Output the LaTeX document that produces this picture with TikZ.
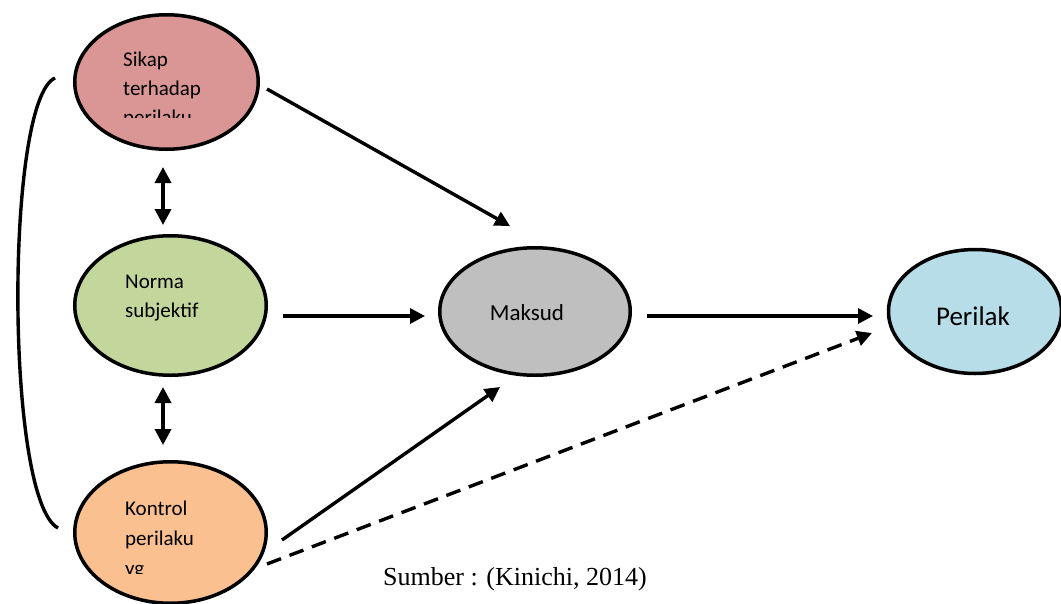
\documentclass[tikz,border=0pt]{standalone}
\usepackage{fontspec}
\setmainfont{Carlito}
\newfontfamily\serifsrc{Liberation Serif}
\usetikzlibrary{shapes.geometric,arrows.meta}
\definecolor{csikap}{HTML}{D99694}
\definecolor{cnorma}{HTML}{C3D69B}
\definecolor{ckontrol}{HTML}{FAC090}
\definecolor{cmaksud}{HTML}{BFBFBF}
\definecolor{cperilak}{HTML}{B7DDE8}
\tikzset{
  oval/.style={ellipse, draw=black, line width=3.5pt, inner sep=0pt},
  lbl/.style={anchor=base west, inner sep=0pt, font=\fontsize{21}{25}\selectfont},
  arr/.style={line width=3.4pt, -{Triangle[length=15pt,width=15pt]}},
  dbl/.style={line width=3.6pt, {Triangle[length=16pt,width=16pt]}-{Triangle[length=16pt,width=16pt]}},
  dsh/.style={arr, dash pattern=on 15pt off 9pt}
}
\begin{document}
\begin{tikzpicture}[x=1pt,y=-1pt]
\useasboundingbox (0,0) rectangle (1061,603);
% ellipses
\node[oval, fill=csikap, minimum width=183.5pt, minimum height=134.5pt] (sikap) at (166.5,82) {};
\node[oval, fill=cnorma, minimum width=191.5pt, minimum height=139.5pt] (norma) at (170.5,305.5) {};
\node[oval, fill=ckontrol, minimum width=191.5pt, minimum height=141.5pt] (kontrol) at (170.5,532.5) {};
\node[oval, fill=cmaksud, minimum width=190.5pt, minimum height=127.5pt] (maksud) at (535,311.5) {};
\node[oval, fill=cperilak, minimum width=173pt, minimum height=124pt] (perilak) at (975,311.5) {};
% texts
\node[lbl] (t1) at (123,66) {Sikap};
\node[lbl] (t2) at (123,95) {terhadap};
\begin{scope}
\clip (100,100) rectangle (250,117);
\node[lbl] (t3) at (123,124) {perilaku};
\end{scope}
\node[lbl] (t4) at (125,288) {Norma};
\node[lbl] (t5) at (125,317) {subjektif};
\node[lbl] (t6) at (125,515) {Kontrol};
\node[lbl] (t7) at (125,545) {perilaku};
\begin{scope}
\clip (100,555) rectangle (250,573);
\node[lbl] (t8) at (125,575) {yg};
\end{scope}
\node[anchor=center, inner sep=0pt, font=\fontsize{23}{27}\selectfont] (t9) at (527,313) {Maksud};
\node[anchor=center, inner sep=0pt, font=\fontsize{27}{31}\selectfont] (t10) at (973,316) {Perilak};
\node[anchor=base west, inner sep=0pt, font=\serifsrc\fontsize{26}{30}\selectfont] (src) at (383,585) {Sumber : (Kinichi, 2014)};
% connector end points
\coordinate (s1) at (267,89);   \coordinate (m1) at (510,226);
\coordinate (n1) at (283,316);  \coordinate (m2) at (425,316);
\coordinate (k1) at (282,540);  \coordinate (m3) at (500,387);
\coordinate (m4) at (647,316);  \coordinate (p1) at (873,316);
\coordinate (k2) at (267,564);  \coordinate (p2) at (872,333);
\coordinate (d1a) at (163,167); \coordinate (d1b) at (163,225);
\coordinate (d2a) at (163,387); \coordinate (d2b) at (163,445);
\coordinate (c1) at (55,78);    \coordinate (c2) at (58,528);
% connectors
\draw[arr] (s1) -- (m1);
\draw[arr] (n1) -- (m2);
\draw[arr] (k1) -- (m3);
\draw[arr] (m4) -- (p1);
\draw[dsh] (k2) -- (p2);
\draw[dbl] (d1a) -- (d1b);
\draw[dbl] (d2a) -- (d2b);
\draw[line width=3.4pt] (c1) .. controls (5,100) and (5,500) .. (c2);
\end{tikzpicture}
\end{document}
